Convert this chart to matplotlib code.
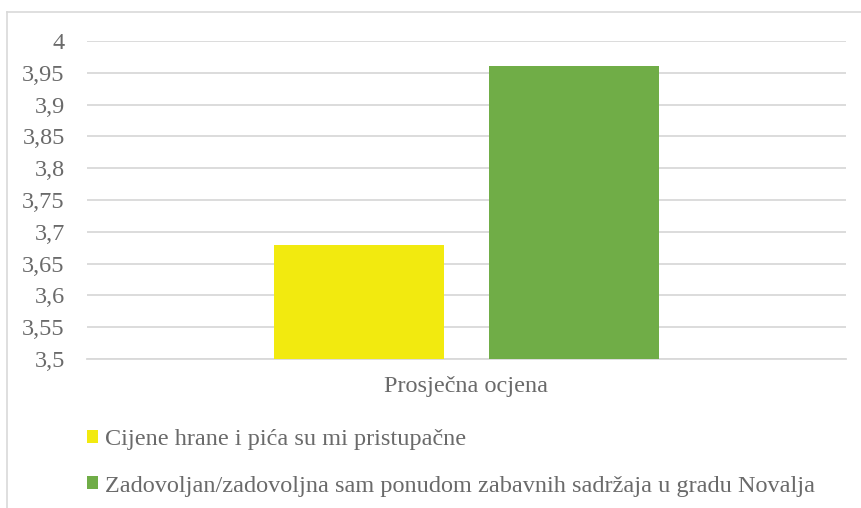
import matplotlib
matplotlib.use('Agg')
import matplotlib.pyplot as plt
import numpy as np
from matplotlib.lines import Line2D


categories = ['Prosječna ocjena']
series_names = ['Cijene hrane i pića su mi pristupačne',
                'Zadovoljan/zadovoljna sam ponudom zabavnih sadržaja u gradu Novalja']
series_values = [[3.68], [3.96]]
series_colors = ['#F2EA0F', '#70AD47']
y_ticks = [3.5, 3.55, 3.6, 3.65, 3.7, 3.75, 3.8, 3.85, 3.9, 3.95, 4.0]

plt.rcParams['font.family'] = ['Liberation Serif', 'DejaVu Serif']
txt_color = '#6A6A6A'
grid_color = '#D9D9D9'
fs = 17.5

fig = plt.figure(figsize=(8.62, 5.08), dpi=100)
ax = fig.add_axes([87 / 862, 1 - 359 / 508, (846 - 87) / 862, (359 - 41) / 508])

bar_w = 0.224
gap = 0.06
x = np.arange(len(categories))
offsets = [-(bar_w + gap) / 2, (bar_w + gap) / 2]
handles = []
for name, vals, col, off in zip(series_names, series_values, series_colors, offsets):
    b = ax.bar(x + off, np.array(vals) - y_ticks[0], bar_w, bottom=y_ticks[0],
               color=col, label=name, zorder=3)
    handles.append(b)

ax.set_xlim(-0.5, 0.5)
ax.set_ylim(y_ticks[0], y_ticks[-1])
ax.set_yticks(y_ticks)
ax.set_yticklabels([('%g' % t).replace('.', ',') for t in y_ticks])
ax.set_xticks(x)
ax.set_xticklabels(categories)
ax.tick_params(axis='both', length=0, labelsize=fs, colors=txt_color)
ax.tick_params(axis='y', pad=16)
ax.tick_params(axis='x', pad=12)
ax.grid(axis='y', color=grid_color, linewidth=1.3, zorder=0)
for s in ['top', 'right', 'left']:
    ax.spines[s].set_visible(False)
ax.spines['bottom'].set_color(grid_color)
ax.spines['bottom'].set_linewidth(1.3)

leg = fig.legend(handles=handles, labels=series_names, loc='upper left',
                 bbox_to_anchor=(87 / 862, 1 - 429 / 508), frameon=False,
                 fontsize=fs, handlelength=0.45, handleheight=0.45,
                 handletextpad=0.3, labelspacing=1.05, borderpad=0,
                 borderaxespad=0)
for t in leg.get_texts():
    t.set_color(txt_color)

# chart frame (only left and top edges visible)
fig.add_artist(Line2D([7.5 / 862, 7.5 / 862], [0, 1 - 12 / 508], color=grid_color,
                      linewidth=1.2, transform=fig.transFigure))
fig.add_artist(Line2D([7.5 / 862, 1], [1 - 12 / 508, 1 - 12 / 508], color=grid_color,
                      linewidth=1.2, transform=fig.transFigure))

fig.savefig('out.png', dpi=100)
